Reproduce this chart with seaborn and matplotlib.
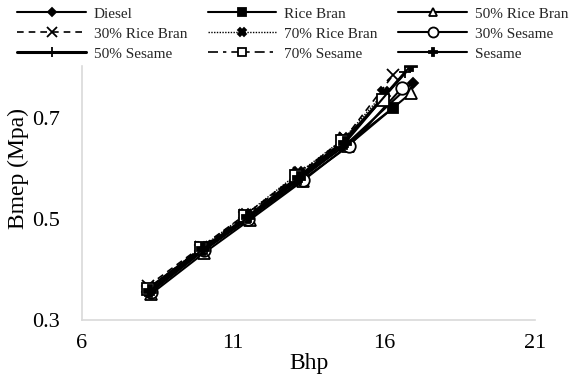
import matplotlib
matplotlib.use("Agg")
import matplotlib.pyplot as plt
import seaborn as sns
import pandas as pd

# Brake power (Bhp) and brake mean effective pressure (Mpa) per fuel blend
series_names = ["Diesel", "Rice Bran", "50% Rice Bran",
                "30% Rice Bran", "70% Rice Bran", "30% Sesame",
                "50% Sesame", "70% Sesame", "Sesame"]

bhp_diesel = [8.25, 10.0, 11.5, 13.25, 14.75, 16.95]
bmep_diesel = [0.358, 0.438, 0.503, 0.580, 0.648, 0.770]

bhp_rice = [8.25, 10.0, 11.5, 13.2, 14.7, 16.3]
bmep_rice = [0.358, 0.438, 0.500, 0.580, 0.645, 0.720]

bhp_rice50 = [8.3, 10.05, 11.55, 13.3, 14.8, 16.9]
bmep_rice50 = [0.352, 0.433, 0.498, 0.575, 0.645, 0.750]

bhp_rice30 = [8.2, 9.95, 11.4, 13.2, 14.7, 16.3]
bmep_rice30 = [0.368, 0.445, 0.508, 0.590, 0.660, 0.785]

bhp_rice70 = [8.2, 9.95, 11.4, 13.15, 14.65, 16.0]
bmep_rice70 = [0.362, 0.443, 0.508, 0.590, 0.658, 0.750]

bhp_ses30 = [8.3, 10.05, 11.5, 13.3, 14.85, 16.6]
bmep_ses30 = [0.356, 0.438, 0.500, 0.578, 0.645, 0.760]

bhp_ses50 = [8.2, 10.0, 11.5, 13.2, 14.7, 16.7]
bmep_ses50 = [0.362, 0.442, 0.505, 0.585, 0.655, 0.790]

bhp_ses70 = [8.2, 9.95, 11.4, 13.1, 14.6, 15.95]
bmep_ses70 = [0.362, 0.443, 0.505, 0.585, 0.655, 0.735]

bhp_ses = [8.25, 10.0, 11.5, 13.2, 14.7, 16.9]
bmep_ses = [0.358, 0.440, 0.503, 0.582, 0.650, 0.805]

xs = [bhp_diesel, bhp_rice, bhp_rice50, bhp_rice30, bhp_rice70,
      bhp_ses30, bhp_ses50, bhp_ses70, bhp_ses]
ys = [bmep_diesel, bmep_rice, bmep_rice50, bmep_rice30, bmep_rice70,
      bmep_ses30, bmep_ses50, bmep_ses70, bmep_ses]

styles = [
    dict(marker="D", ms=5, mfc="black", ls="-", lw=1.5),
    dict(marker="s", ms=7, mfc="black", ls="-", lw=1.5),
    dict(marker="^", ms=8, mfc="white", ls="-", lw=1.5),
    dict(marker="x", ms=9, mfc="black", ls=(0, (4, 3)), lw=1.2),
    dict(marker="X", ms=8, mfc="black", ls=(0, (1, 1)), lw=1.0),
    dict(marker="o", ms=9, mfc="white", ls="-", lw=1.5),
    dict(marker="+", ms=9, mfc="black", ls="-", lw=2.2),
    dict(marker="s", ms=8, mfc="white", ls=(0, (6, 3, 2, 3)), lw=1.2),
    dict(marker="P", ms=8, mfc="black", ls="-", lw=1.5),
]

sns.set_theme(style="white")
plt.rcParams["font.family"] = ["Liberation Serif", "DejaVu Serif"]

fig = plt.figure(figsize=(5.73, 3.85), dpi=100)
ax = fig.add_axes([0.143, 0.169, 0.791, 0.787])

for name, x, y, st in zip(series_names, xs, ys, styles):
    df = pd.DataFrame({"Bhp": x, "Bmep": y})
    sns.lineplot(data=df, x="Bhp", y="Bmep", ax=ax, sort=False,
                 color="black", marker=st["marker"], markersize=st["ms"],
                 markerfacecolor=st["mfc"], markeredgecolor="black",
                 markeredgewidth=1.3, linestyle=st["ls"], linewidth=st["lw"],
                 label=name)

ax.set_xlim(6, 21)
ax.set_ylim(0.3, 0.9)
ax.set_xticks([6, 11, 16, 21])
ax.set_yticks([0.3, 0.5, 0.7, 0.9])
ax.set_yticklabels(["0.3", "0.5", "0.7", "0.9"])
ax.tick_params(axis="x", labelsize=16, colors="black", length=0, pad=10)
ax.tick_params(axis="y", labelsize=16, colors="black", length=0, pad=16)
ax.set_xlabel("Bhp", fontsize=17, color="black", labelpad=0)
ax.set_ylabel("Bmep (Mpa)", fontsize=17, color="black", labelpad=2)

for side in ["top", "right"]:
    ax.spines[side].set_visible(False)
for side in ["left", "bottom"]:
    ax.spines[side].set_color("#d9d9d9")
    ax.spines[side].set_linewidth(1.2)

handles, labels = ax.get_legend_handles_labels()
ax.get_legend().remove()
# legend fills column-first, so reorder to read row by row
order = [0, 3, 6, 1, 4, 7, 2, 5, 8]
handles = [handles[i] for i in order]
labels = [labels[i] for i in order]
leg = fig.legend(handles, labels, ncol=3, loc="upper left",
                 bbox_to_anchor=(0.018, 1.0), fontsize=11, frameon=True,
                 handlelength=4.5, handletextpad=0.5, columnspacing=1.35,
                 labelspacing=0.42, borderpad=0.2, borderaxespad=0.25,
                 markerscale=0.8, fancybox=False)
leg.get_frame().set_facecolor("white")
leg.get_frame().set_edgecolor("white")
leg.get_frame().set_alpha(1.0)

fig.savefig("out.png", dpi=100, facecolor="white")
